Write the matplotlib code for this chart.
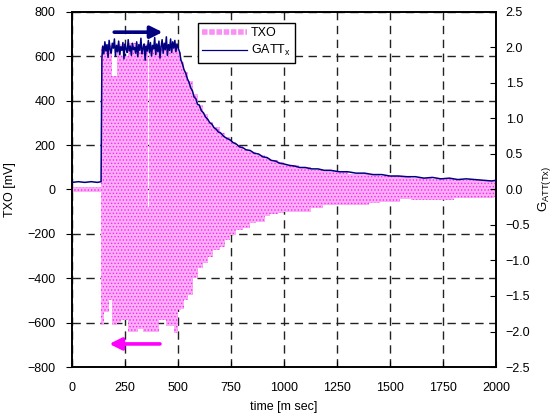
import numpy as np
import matplotlib
matplotlib.use('Agg')
from matplotlib import pyplot as plt
from matplotlib.lines import Line2D

plt.rcParams['font.family'] = ['Liberation Sans', 'DejaVu Sans']
plt.rcParams['hatch.linewidth'] = 0.6

# GATT(Tx) gain, right axis
t_pre = [0, 30, 60, 90, 120, 137]
g_pre = [0.10, 0.11, 0.10, 0.11, 0.10, 0.11]
t_rise = [141]
g_rise = [1.85]
t_plat = np.arange(145, 505, 5)
g_plat = [2.02, 1.91, 2.08, 1.95, 2.04, 1.86, 2.10, 1.97, 1.92, 2.06, 1.99, 2.12,
          1.88, 2.03, 1.94, 2.09, 1.90, 2.01, 1.96, 2.07, 1.84, 2.05, 1.98, 1.93,
          2.11, 1.95, 2.02, 1.89, 2.06, 1.97, 2.00, 1.92, 2.08, 1.87, 2.04, 1.96,
          2.13, 1.91, 1.99, 2.05, 1.82, 2.02, 1.95, 2.10, 1.93, 2.07, 1.88, 2.03,
          1.98, 2.14, 1.90, 2.05, 1.94, 2.09, 1.85, 2.01, 2.11, 1.92, 2.06, 1.97,
          2.15, 1.89, 2.04, 1.96, 2.12, 1.93, 2.08, 1.99, 2.10, 1.94, 2.05, 2.00]
t_dec = [508, 514, 520, 528, 536, 544, 552, 560, 568, 576, 584, 592, 600, 610, 620,
         630, 640, 650, 660, 670, 680, 690, 700, 715, 730, 745, 760, 775, 790, 805,
         820, 840, 860, 880, 900, 920, 940, 960, 980, 1000, 1025, 1050, 1075, 1100,
         1130, 1160, 1190, 1220, 1260, 1300, 1340, 1380, 1420, 1460, 1500, 1540,
         1580, 1620, 1660, 1700, 1740, 1780, 1820, 1860, 1900, 1940, 1980, 2000]
g_dec = [1.93, 1.82, 1.78, 1.69, 1.64, 1.56, 1.51, 1.43, 1.39, 1.30, 1.28, 1.20, 1.19,
         1.11, 1.08, 1.02, 0.99, 0.94, 0.92, 0.87, 0.85, 0.81, 0.80, 0.75, 0.72, 0.70,
         0.66, 0.64, 0.60, 0.59, 0.56, 0.55, 0.51, 0.50, 0.46, 0.45, 0.41, 0.40, 0.37,
         0.36, 0.34, 0.33, 0.31, 0.31, 0.29, 0.29, 0.27, 0.27, 0.25, 0.25, 0.23, 0.23,
         0.21, 0.21, 0.19, 0.19, 0.18, 0.18, 0.16, 0.17, 0.15, 0.16, 0.14, 0.15, 0.14,
         0.13, 0.12, 0.13]

# TXO envelope [mV], left axis (column tops / bottoms)
t_txo = [0, 138, 150, 175, 190, 212, 230, 262, 310, 336, 360, 365, 372, 412, 445,
         482, 500, 515, 530, 548, 571, 595, 618, 642, 665, 696, 720, 744, 775, 806,
         838, 869, 908, 932, 970, 1000, 1073, 1125, 1186, 1250, 1300, 1350, 1400,
         1453, 1547, 1600, 1700, 1800, 1900, 1990, 2000]
txo_hi = [10, 640, 655, 650, 510, 655, 600, 660, 650, 655, -80, 640, 650, 645, 655,
          650, 620, 575, 530, 490, 430, 380, 340, 305, 280, 255, 235, 215, 195, 180,
          168, 155, 142, 132, 122, 112, 100, 90, 84, 78, 72, 68, 64,
          60, 55, 52, 48, 45, 43, 40, 40]
txo_lo = [-10, -610, -550, -500, -610, -600, -588, -640, -630, -640, -640, -640, -640, -590, -615,
          -648, -543, -540, -500, -475, -400, -355, -333, -303, -273, -258, -227, -205, -182, -175,
          -152, -145, -119, -110, -105, -100, -100, -85, -70, -70, -70, -68, -62,
          -55, -44, -46, -47, -40, -38, -33, -33]

t_gatt = list(t_pre) + list(t_rise) + list(t_plat) + list(t_dec)
g_gatt = g_pre + g_rise + g_plat + g_dec

fig = plt.figure(figsize=(5.57, 4.19), dpi=100)
ax = fig.add_axes([0.1293, 0.1241, 0.7612, 0.8473])
ax2 = ax.twinx()

ax.fill_between(t_txo, txo_lo, txo_hi, step='post', facecolor='#f9b0f4',
                edgecolor='#ff22ff', hatch='.....', linewidth=0, zorder=2)
ax2.plot(t_gatt, g_gatt, color='#000080', lw=1.1, zorder=3)

ax.set_xlim(0, 2000)
ax.set_ylim(-800, 800)
ax2.set_ylim(-2.5, 2.5)
ax.set_xticks(range(0, 2001, 250))
ax.set_yticks(range(-800, 801, 200))
ax2.set_yticks(np.arange(-2.5, 2.51, 0.5))
ax2.set_yticklabels([f'{v:.1f}'.replace('-', '\u2212') for v in np.arange(-2.5, 2.51, 0.5)])

ax.set_axisbelow(True)
ax.grid(True, color='#222222', linestyle=(0, (6, 4)), lw=1.0)
ax.tick_params(axis='y', direction='out', length=4, pad=8, labelsize=9)
ax.tick_params(axis='x', direction='in', length=4, pad=11, labelsize=9)
ax2.tick_params(axis='y', direction='in', length=4, pad=7, labelsize=9)
for a in (ax, ax2):
    for s in a.spines.values():
        s.set_linewidth(1.2)

ax.set_xlabel('time [m sec]', fontsize=9, labelpad=5)
ax.set_ylabel('TXO [mV]', fontsize=9, labelpad=8)
ax2.set_ylabel(r'G$_{\mathregular{ATT(Tx)}}$', fontsize=9.5, labelpad=4)

# arrows
ax.annotate('', xy=(440, 709), xytext=(186, 709),
            arrowprops=dict(arrowstyle='-|>', color='#000080', lw=2.6, mutation_scale=18))
ax.annotate('', xy=(163, -696), xytext=(428, -696),
            arrowprops=dict(arrowstyle='-|>', color='#ff00ff', lw=2.6, mutation_scale=18))

handles = [Line2D([], [], color='#f990f3', lw=4, linestyle=(0, (1, 0.3))),
           Line2D([], [], color='#000080', lw=0.9)]
leg = ax2.legend(handles, ['TXO', r'GATT$_{\mathregular{x}}$'], loc='upper left',
                 bbox_to_anchor=(0.297, 0.969), fontsize=9, handlelength=3.6,
                 fancybox=False, edgecolor='black', framealpha=1,
                 borderpad=0.35, labelspacing=0.3, handletextpad=0.3, borderaxespad=0)
leg.get_frame().set_linewidth(1.0)

fig.savefig('out.png', dpi=100)
